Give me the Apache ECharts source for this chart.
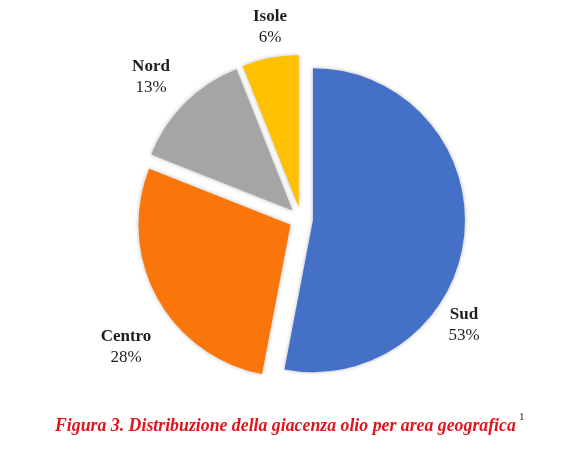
<!DOCTYPE html>
<html>
<head>
<meta charset="utf-8">
<script src="https://cdn.jsdelivr.net/npm/echarts@6/dist/echarts.min.js"></script>
<style>
  html, body { margin: 0; padding: 0; background: #ffffff; }
  #chart { width: 578px; height: 467px; }
</style>
</head>
<body>
<div id="chart"></div>
<script>
// Share of stored oil by geographic area (percent)
const areas = ['Sud', 'Centro', 'Nord', 'Isole'];
const shares = [53, 28, 13, 6];
const colors = ['#4470C8', '#FB760A', '#A5A5A5', '#FFC000'];

// Where each area label block is centred (px)
const labelSpots = [[464, 325], [126, 347], [151, 77], [270, 27]];

const serif = 'Liberation Serif';
const ink = '#1e1e1e';

// Name (bold) above percentage (regular) for each area
const labelGraphics = [];
areas.forEach((name, i) => {
  const [x, y] = labelSpots[i];
  labelGraphics.push({
    type: 'text', x: x, y: y - 10,
    style: { text: name, fontFamily: serif, fontWeight: 'bold', fontSize: 17,
             fill: ink, textAlign: 'center', textVerticalAlign: 'middle' }
  });
  labelGraphics.push({
    type: 'text', x: x, y: y + 11,
    style: { text: shares[i] + '%', fontFamily: serif, fontSize: 17,
             fill: ink, textAlign: 'center', textVerticalAlign: 'middle' }
  });
});

const chart = echarts.init(document.getElementById('chart'), null, { renderer: 'canvas' });

chart.setOption({
  backgroundColor: '#ffffff',
  animation: false,
  graphic: labelGraphics.concat([
    {
      type: 'text', left: 55, top: 417,
      style: {
        text: 'Figura 3. Distribuzione della giacenza olio per area geografica',
        fontFamily: serif, fontStyle: 'italic', fontWeight: 'bold', fontSize: 17.8,
        fill: '#E3121B'
      }
    },
    {
      type: 'text', left: 519, top: 412,
      style: { text: '1', fontFamily: serif, fontSize: 11, fill: ink }
    }
  ]),
  series: [{
    type: 'pie',
    center: [301, 219],
    radius: 152,
    startAngle: 90,
    clockwise: true,
    selectedMode: 'multiple',
    selectedOffset: 12,
    data: areas.map((name, i) => ({
      name: name,
      value: shares[i],
      selected: true,
      itemStyle: { color: colors[i] }
    })),
    itemStyle: {
      shadowBlur: 4,
      shadowColor: 'rgba(0,0,0,0.28)'
    },
    emphasis: { disabled: true },
    label: { show: false },
    labelLine: { show: false }
  }]
});
</script>
</body>
</html>
